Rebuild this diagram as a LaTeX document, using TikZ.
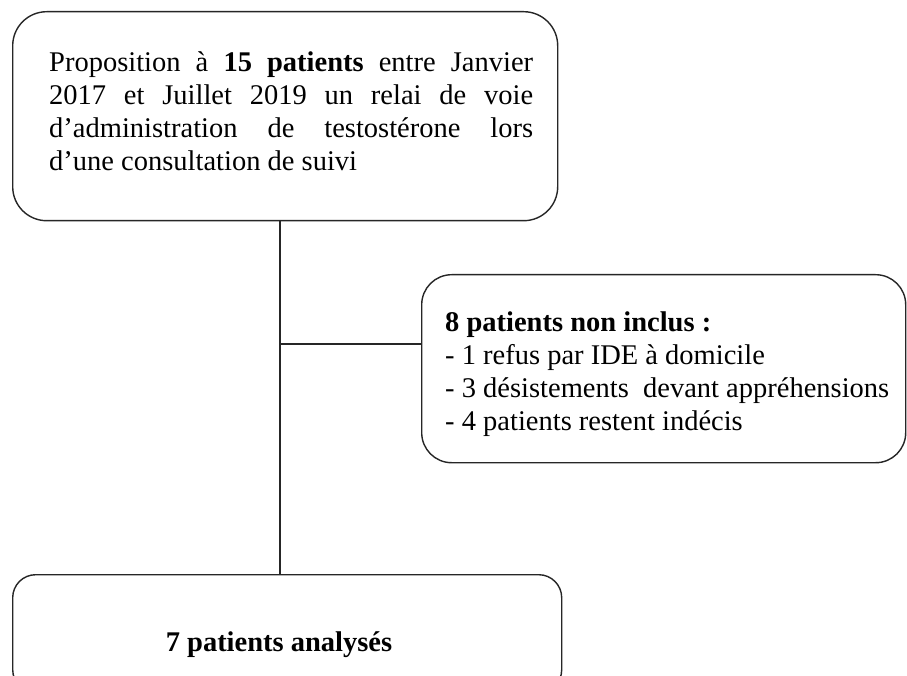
\documentclass[tikz,border=0pt]{standalone}
\usepackage{fontspec}
\setmainfont{Liberation Serif}
\begin{document}
\begin{tikzpicture}[x=1pt,y=-1pt,
  box/.style={draw=black!85, line width=1.4pt, fill=white, inner sep=0pt},
  txt/.style={inner sep=0pt, align=left, font=\fontsize{28.5}{33}\selectfont},
  link/.style={draw=black!85, line width=1.4pt}]
\useasboundingbox[fill=white] (0,0) rectangle (907,676);
% boxes
\node[box, rounded corners=34pt, minimum width=545pt, minimum height=209pt, anchor=north west] (topbox) at (12,11) {};
\node[box, rounded corners=30pt, minimum width=484pt, minimum height=188pt, anchor=north west] (rightbox) at (421,274) {};
\node[box, rounded corners=23pt, minimum width=549pt, minimum height=118pt, anchor=north west] (botbox) at (12,574) {};
% connectors
\coordinate (j) at (280,344);
\draw[link] (j |- topbox.south) -- (j |- botbox.north);
\draw[link] (j) -- (j -| rightbox.west);
% texts
\node[txt, anchor=north west] (toptext) at (49,51)
  {\makebox[484pt][s]{Proposition à \textbf{15 patients} entre Janvier}\\
   \makebox[484pt][s]{2017 et Juillet 2019 un relai de voie}\\
   \makebox[484pt][s]{d’administration de testostérone lors}\\
   d’une consultation de suivi};
\node[txt, anchor=north west] (righttext) at (445,312)
  {\textbf{8 patients non inclus :}\\
   - 1 refus par IDE à domicile\\
   - 3 désistements\ \ devant appréhensions\\
   - 4 patients restent indécis};
\node[txt, anchor=base] (bottext) at (279,651) {\textbf{7 patients analysés}};
\end{tikzpicture}
\end{document}
